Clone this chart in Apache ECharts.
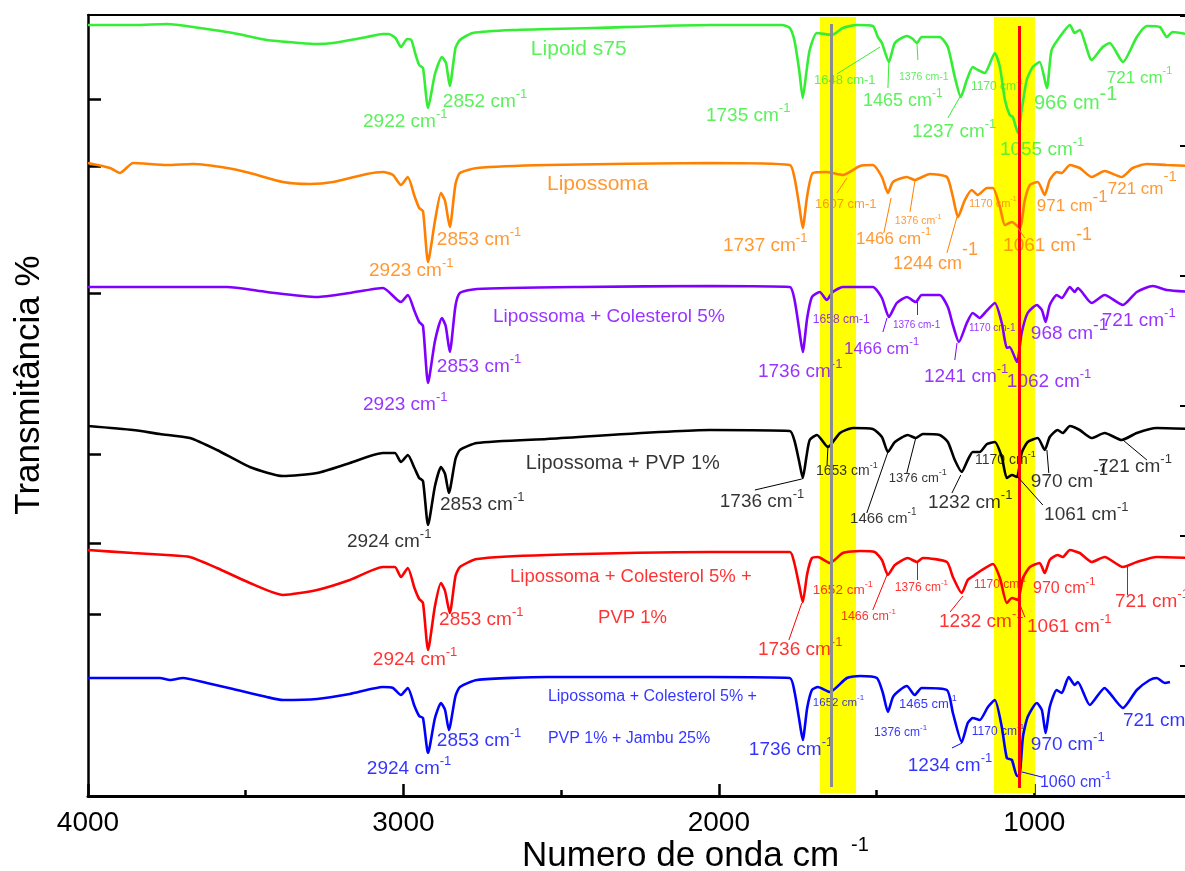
<!DOCTYPE html>
<html><head><meta charset="utf-8">
<script src="https://cdn.jsdelivr.net/npm/echarts@6/dist/echarts.min.js"></script>
<style>html,body{margin:0;padding:0;background:#fff}#c{width:1185px;height:871px}</style>
</head><body><div id="c"></div>
<script>
const FONT = "'Liberation Sans', Arial, Helvetica, sans-serif";

// ---- axis ticks ----
const xMajorTicks = [1000, 2000, 3000, 4000];
const leftTicks = [697, 630, 503, 342, 253, 182];

// ---- series names / colours ----
const seriesNames = ['Lipoid s75', 'Lipossoma', 'Lipossoma + Colesterol 5%', 'Lipossoma + PVP 1%',
  'Lipossoma + Colesterol 5% + PVP 1%', 'Lipossoma + Colesterol 5% + PVP 1% + Jambu 25%'];
const seriesColors = ['#33ee33', '#ff8000', '#8000ff', '#000000', '#ff0000', '#0000ff'];

// ---- spectra: [wavenumber, transmittance (offset, a.u.)] ----
const lipoidS75 = [[4000,771],[3850,771],[3750,772],[3645,768],[3540,763],[3433,756],[3328,753],[3274,752],[3223,753],[3116,759],[3065,762],[3047,762],[3025,758],[3008,749],[2988,757],[2975,756],[2962,742],[2950,731],[2938,728],[2922,688],[2900,722],[2878,739],[2865,733],[2853,710],[2835,748],[2821,756],[2780,763],[2653,766],[2400,768],[2028,771],[1800,771],[1775,768],[1760,755],[1745,725],[1734,698],[1722,725],[1712,746],[1689,763],[1642,761],[1607,768],[1563,771],[1512,770],[1496,759],[1483,753],[1461,734],[1442,753],[1404,760],[1385,757],[1372,753],[1357,759],[1300,759],[1274,749],[1252,719],[1233,699],[1214,716],[1195,729],[1179,726],[1157,723],[1125,743],[1109,729],[1093,696],[1078,681],[1068,679],[1052,663],[1040,686],[1024,716],[1005,729],[983,734],[960,708],[945,746],[910,763],[887,771],[872,763],[856,766],[818,736],[783,749],[761,753],[719,734],[675,759],[643,770],[602,769],[580,759],[561,764],[500,761]];
const lipossoma = [[4000,633],[3930,628],[3899,623],[3857,633],[3750,631],[3667,632],[3559,628],[3487,623],[3382,614],[3296,612],[3223,614],[3116,622],[3065,624],[3033,621],[3008,611],[2986,619],[2965,600],[2950,588],[2938,585],[2922,534],[2900,575],[2881,603],[2868,595],[2853,569],[2835,612],[2821,623],[2767,628],[2545,631],[2028,633],[1775,631],[1760,618],[1745,590],[1734,568],[1720,600],[1702,623],[1658,624],[1607,621],[1553,630],[1512,631],[1483,619],[1464,603],[1448,614],[1404,619],[1379,616],[1331,622],[1277,619],[1258,599],[1242,579],[1220,596],[1198,606],[1179,601],[1150,608],[1131,608],[1109,589],[1093,571],[1071,574],[1046,568],[1030,596],[1014,611],[989,614],[967,601],[951,616],[929,624],[913,623],[887,631],[856,628],[818,619],[777,625],[723,619],[688,628],[643,632],[580,631],[500,630]];
const lipoColesterol = [[4000,509],[3750,509],[3559,509],[3433,504],[3274,499],[3170,503],[3065,508],[3008,494],[2986,501],[2965,485],[2950,474],[2938,470],[2922,413],[2900,455],[2878,478],[2866,470],[2853,444],[2835,490],[2821,503],[2767,507],[2441,509],[2028,510],[1775,509],[1760,496],[1745,466],[1734,444],[1720,478],[1705,499],[1680,504],[1658,496],[1639,504],[1607,509],[1512,509],[1483,498],[1461,479],[1436,493],[1404,499],[1376,494],[1357,501],[1300,501],[1274,489],[1258,471],[1239,454],[1214,473],[1195,483],[1173,478],[1157,483],[1125,493],[1103,473],[1087,448],[1078,449],[1055,434],[1040,463],[1021,483],[992,491],[976,486],[964,474],[951,491],[929,501],[913,498],[887,509],[872,504],[862,508],[818,493],[777,501],[719,491],[675,504],[624,510],[580,506],[500,504]];
const lipoPVP = [[4000,370],[3857,366],[3772,362],[3677,358],[3591,346],[3487,329],[3382,320],[3274,323],[3170,333],[3065,343],[3027,343],[3008,334],[2986,341],[2965,328],[2950,318],[2938,315],[2922,271],[2900,310],[2881,329],[2868,322],[2856,303],[2835,337],[2821,346],[2767,353],[2545,357],[2028,366],[1775,365],[1760,355],[1745,334],[1734,318],[1722,340],[1712,356],[1689,361],[1654,349],[1616,363],[1575,368],[1512,367],[1483,359],[1464,344],[1442,354],[1401,361],[1376,358],[1353,362],[1300,361],[1274,354],[1252,336],[1230,324],[1211,336],[1195,344],[1173,344],[1150,352],[1125,354],[1103,339],[1087,318],[1071,321],[1055,319],[1040,343],[1021,354],[989,358],[967,346],[951,359],[926,366],[910,363],[887,370],[856,366],[818,358],[777,363],[723,356],[675,363],[612,368],[500,367]];
const lipoColesterolPVP = [[4000,246],[3857,243],[3750,241],[3677,239],[3591,228],[3487,213],[3382,201],[3274,206],[3170,216],[3065,229],[3027,229],[3008,219],[2986,228],[2965,208],[2950,197],[2938,193],[2922,146],[2900,190],[2881,213],[2868,205],[2853,183],[2835,220],[2821,229],[2767,237],[2545,241],[2028,244],[1775,244],[1760,232],[1745,210],[1734,194],[1720,222],[1705,238],[1686,239],[1648,233],[1607,243],[1553,245],[1506,244],[1483,236],[1464,221],[1442,231],[1401,238],[1372,234],[1353,238],[1277,234],[1258,219],[1230,203],[1211,216],[1189,221],[1166,226],[1131,232],[1109,218],[1087,193],[1071,198],[1052,196],[1036,218],[1014,229],[983,233],[967,223],[951,236],[926,241],[910,239],[887,246],[856,243],[818,234],[777,239],[719,229],[675,234],[612,239],[500,238]];
const lipoColesterolPVPJambu = [[4000,118],[3772,118],[3740,116],[3699,118],[3623,113],[3540,107],[3433,99],[3382,96],[3274,97],[3170,102],[3065,109],[3033,108],[3008,101],[2986,108],[2965,90],[2950,80],[2938,78],[2922,43],[2900,78],[2881,93],[2868,86],[2856,66],[2835,100],[2821,109],[2767,116],[2545,119],[2028,119],[1775,118],[1760,104],[1745,76],[1734,56],[1720,88],[1705,106],[1686,109],[1648,104],[1594,118],[1553,120],[1499,118],[1480,103],[1464,84],[1448,99],[1426,106],[1404,110],[1379,101],[1357,108],[1277,106],[1258,83],[1230,54],[1211,73],[1195,78],[1173,76],[1147,89],[1125,96],[1103,69],[1087,38],[1071,36],[1055,20],[1046,21],[1036,59],[1021,79],[992,93],[976,86],[964,63],[951,89],[929,106],[913,103],[891,119],[872,111],[862,114],[824,91],[777,108],[761,103],[719,88],[675,106],[634,116],[612,118],[586,113],[570,114]];

// ---- annotations: [wavenumber, value, text, superscript, fontSize, supSize, rise] ----
const lipoidLabels = [
  [2596,747,'Lipoid s75',null,21],
  [3128,674,'2922 cm','-1',19],
  [2875,694,'2852 cm','-1',19],
  [2041,680,'1735 cm','-1',19],
  [1698,716,'1648 cm-1',null,13],
  [1543,695,'1465 cm','-1',18],
  [1429,719,'1376 cm-1',null,10.5],
  [1388,664,'1237 cm','-1',19],
  [1201,709,'1170 cm','-1',12],
  [1109,646,'1055 cm','-1',19],
  [1001,693,'966 cm','-1',20,20,9],
  [770,718,'721 cm','-1',17]
];
const lipoidLeaders = [[1489,749,1626,722],[1461,734,1464,708],[1372,753,1369,736],[1236,699,1274,678]];

const lipoLabels = [
  [2545,612,'Lipossoma',null,21],
  [3109,525,'2923 cm','-1',19],
  [2894,556,'2853 cm','-1',19],
  [1987,550,'1737 cm','-1',19],
  [1695,592,'1607 cm-1',null,13],
  [1565,557,'1466 cm','-1',17],
  [1442,575,'1376 cm','-1',10.5],
  [1448,532,'1244 cm','-1',18,18,14],
  [1207,592,'1170 cm','-1',11],
  [1099,550,'1061 cm','-1',19,18,11],
  [992,590,'971 cm','-1',17,17,9],
  [767,607,'721 cm','-1',17,15,12]
];
const lipoLeaders = [[1594,618,1626,603],[1454,598,1477,563],[1378,616,1394,584],[1245,579,1277,543],[1052,568,1030,558]];

const coleLabels = [
  [2716,479,'Lipossoma + Colesterol 5%',null,19],
  [3128,391,'2923 cm','-1',19],
  [2894,429,'2853 cm','-1',19],
  [1876,424,'1736 cm','-1',19],
  [1702,476,'1658 cm-1',null,12],
  [1603,447,'1466 cm','-1',17],
  [1448,471,'1376 cm-1',null,10],
  [1350,419,'1241 cm','-1',19],
  [1207,468,'1170 cm-1',null,10],
  [1087,414,'1062 cm','-1',19],
  [1011,462,'968 cm','-1',19,17,9],
  [786,475,'721 cm','-1',19]
];
const coleLeaders = [[1467,478,1480,464],[1372,496,1372,481],[1245,453,1252,436]];

const pvpLabels = [
  [2612,333,'Lipossoma + PVP 1%',null,20],
  [3179,254,'2924 cm','-1',19],
  [2884,291,'2853 cm','-1',19],
  [1997,294,'1736 cm','-1',19],
  [1692,325,'1653 cm','-1',14],
  [1584,277,'1466 cm','-1',15],
  [1461,318,'1376 cm','-1',13],
  [1337,293,'1232 cm','-1',19],
  [1188,336,'1170 cm','-1',14],
  [969,281,'1061 cm','-1',19],
  [1011,314,'970 cm','-1',19,17,12],
  [798,329,'721 cm','-1',19]
];
const pvpLeaders = [[1737,317,1886,306],[1654,351,1657,331],[1464,344,1531,283],[1375,359,1404,323],[1233,321,1261,303],[1055,320,973,291],[960,346,954,323],[719,356,643,336]];

const colePvpLabels = [
  [2662,219,'Lipossoma + Colesterol 5% +',null,18.5],
  [2383,178,'PVP 1%',null,18.5],
  [3097,136,'2924 cm','-1',19],
  [2887,176,'2853 cm','-1',19],
  [1876,146,'1736 cm','-1',19],
  [1702,206,'1652 cm','-1',13.5],
  [1613,179,'1466 cm','-1',12.5],
  [1442,208,'1376 cm','-1',12],
  [1302,174,'1232 cm','-1',19],
  [1191,211,'1170 cm','-1',12],
  [1023,169,'1061 cm','-1',19],
  [1004,207,'970 cm','-1',16],
  [744,194,'721 cm','-1',19]
];
const colePvpLeaders = [[1737,193,1778,156],[1467,221,1512,186],[1372,234,1372,216],[1226,200,1267,184],[1049,194,1030,179],[706,229,706,201]];

const jambuLabels = [
  [2542,99,'Lipossoma + Colesterol 5% +',null,16],
  [2542,57,'PVP 1% + Jambu 25%',null,16],
  [3116,27,'2924 cm','-1',19],
  [2894,55,'2853 cm','-1',19],
  [1905,46,'1736 cm','-1',19],
  [1702,93,'1652 cm','-1',11.5],
  [1429,92,'1465 cm','-1',13],
  [1508,63,'1376 cm','-1',12],
  [1401,30,'1234 cm','-1',19],
  [1198,64,'1170 cm','-1',12],
  [982,13,'1060 cm','-1',16],
  [1011,51,'970 cm','-1',19],
  [719,75,'721 cm','-1',19]
];
const jambuLeaders = [[1229,53,1261,48],[1039,24,976,19]];

// highlighted regions and reference lines (wavenumbers)
const bands = [[1680,1565],[1128,998]];
const bandRange = [3, 779];
const refLines = [{w:1643, from:9, to:772, color:'#8c8c8c'}, {w:1048, from:8, to:770, color:'#ff0000'}];

const spectra = [lipoidS75, lipossoma, lipoColesterol, lipoPVP, lipoColesterolPVP, lipoColesterolPVPJambu];
const labelSets = [lipoidLabels, lipoLabels, coleLabels, pvpLabels, colePvpLabels, jambuLabels];
const leaderSets = [lipoidLeaders, lipoLeaders, coleLeaders, pvpLeaders, colePvpLeaders, jambuLeaders];

function labelItems(arr, color) {
  return arr.map(([w, v, txt, sup, fs, sfs, rise]) => {
    const s = sfs || Math.round(fs * 0.66);
    const r = rise != null ? rise : fs * 0.42;
    const L = Math.max(2 * r + s, fs * 1.2);
    return {
      value: [w, v],
      label: {
        show: true, position: 'right', distance: 0,
        formatter: sup ? '{m|' + txt + '}{s|' + sup + '}' : '{m|' + txt + '}',
        rich: {
          m: {fontSize: fs, color: color, fontFamily: FONT, lineHeight: L, verticalAlign: 'middle'},
          s: {fontSize: s, color: color, fontFamily: FONT, lineHeight: s, verticalAlign: 'top'}
        }
      }
    };
  });
}

const series = [];
series.push({
  type: 'line', data: [], z: 1, silent: true,
  markArea: {silent: true, itemStyle: {color: '#ffff00', opacity: 1},
    data: bands.map(b => [{coord: [b[0], bandRange[1]]}, {coord: [b[1], bandRange[0]]}])}
});
spectra.forEach((d, i) => {
  series.push({
    name: seriesNames[i], type: 'line', data: d, z: 2, showSymbol: false, smooth: 0.2,
    silent: true, lineStyle: {color: seriesColors[i], width: 2.6}, itemStyle: {color: seriesColors[i]}
  });
});
refLines.forEach(l => {
  series.push({
    type: 'line', data: [], z: 3, silent: true,
    markLine: {silent: true, symbol: ['none', 'none'], label: {show: false},
      lineStyle: {color: l.color, width: 3, type: 'solid'},
      data: [[{coord: [l.w, l.to]}, {coord: [l.w, l.from]}]]}
  });
});
labelSets.forEach((arr, i) => {
  series.push({
    type: 'scatter', z: 4, silent: true, symbolSize: 0,
    itemStyle: {color: 'rgba(0,0,0,0)'},
    data: labelItems(arr, seriesColors[i]),
    markLine: {silent: true, symbol: ['none', 'none'], label: {show: false},
      lineStyle: {color: seriesColors[i], width: 1, type: 'solid'},
      data: leaderSets[i].map(s => [{coord: [s[0], s[1]]}, {coord: [s[2], s[3]]}])}
  });
});

const chart = echarts.init(document.getElementById('c'), null, {renderer: 'canvas'});
chart.setOption({
  animation: false,
  backgroundColor: '#ffffff',
  grid: {left: 88, top: 15, width: 1104, height: 781, containLabel: false, outerBoundsMode: 'none'},
  xAxis: [
    {type: 'value', min: 500, max: 4000, interval: 500, inverse: true, position: 'bottom',
      axisLine: {show: true, onZero: false, lineStyle: {color: '#000', width: 3}},
      axisTick: {show: true, inside: true, length: 6, lineStyle: {color: '#000', width: 2.5}},
      axisLabel: {show: true, fontSize: 28, color: '#000', fontFamily: FONT, margin: 13,
        formatter: v => (xMajorTicks.indexOf(v) >= 0 ? String(v) : '')},
      splitLine: {show: false}},
    {type: 'value', min: 500, max: 4000, interval: 500, inverse: true, position: 'bottom',
      axisLine: {show: false, onZero: false},
      axisTick: {show: true, inside: true, length: 12, customValues: xMajorTicks, lineStyle: {color: '#000', width: 2.5}},
      axisLabel: {show: false}, splitLine: {show: false}},
    {type: 'value', min: 500, max: 4000, inverse: true, position: 'top',
      axisLine: {show: true, onZero: false, lineStyle: {color: '#000', width: 2}},
      axisTick: {show: false}, axisLabel: {show: false}, splitLine: {show: false}}
  ],
  yAxis: [
    {type: 'value', min: 0, max: 781, interval: 130, position: 'left',
      axisLine: {show: true, onZero: false, lineStyle: {color: '#000', width: 2.5}},
      axisTick: {show: true, inside: true, length: 13, customValues: leftTicks, lineStyle: {color: '#000', width: 2.5}},
      axisLabel: {show: false}, splitLine: {show: false}},
    {type: 'value', min: 0, max: 781, interval: 130, position: 'right',
      axisLine: {show: false, onZero: false},
      axisTick: {show: true, inside: true, length: 12, lineStyle: {color: '#000', width: 2}},
      axisLabel: {show: false}, splitLine: {show: false}}
  ],
  graphic: [
    {type: 'text', x: 29, y: 385, rotation: Math.PI / 2, silent: true,
      style: {text: 'Transmitância %', fontSize: 35, fontFamily: FONT, fill: '#000',
        align: 'center', verticalAlign: 'middle', textAlign: 'center', textVerticalAlign: 'middle'}},
    {type: 'text', x: 522, y: 856, silent: true,
      style: {text: '{a|Numero de onda cm}{s|-1}', fill: '#000', fontFamily: FONT,
        align: 'left', verticalAlign: 'middle', textAlign: 'left', textVerticalAlign: 'middle',
        rich: {a: {fontSize: 35, fontFamily: FONT, fill: '#000', color: '#000', lineHeight: 42, verticalAlign: 'middle'},
               s: {fontSize: 20, fontFamily: FONT, fill: '#000', color: '#000', lineHeight: 20, verticalAlign: 'top', padding: [0, 0, 0, 12]}}}}
  ],
  series: series
});
</script>
</body></html>
